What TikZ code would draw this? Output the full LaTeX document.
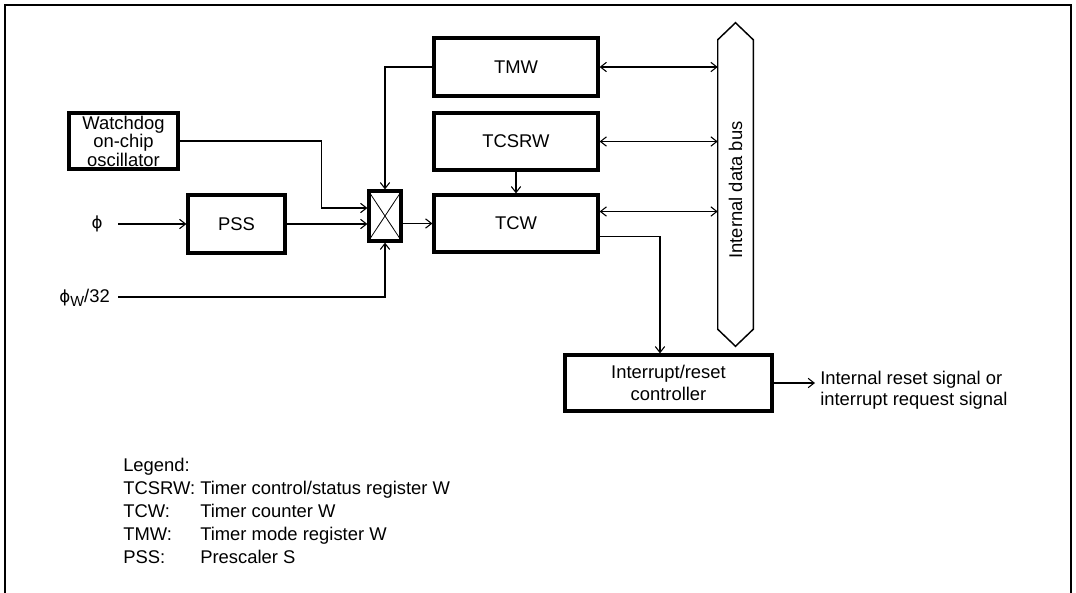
\documentclass[tikz,border=0pt]{standalone}
\usepackage{fontspec}
\setmainfont{Liberation Sans}
\newfontfamily\dejavu{DejaVu Sans}
\usetikzlibrary{arrows.meta,calc}
\begin{document}
\begin{tikzpicture}[x=0.75pt,y=-0.75pt,
  font=\fontsize{13.8pt}{16pt}\selectfont,
  box/.style={draw,line width=2.4pt,inner sep=0pt,align=center},
  conn/.style={line width=0.8pt,-{Straight Barb[length=4.5pt,width=7pt]}},
  bidir/.style={line width=0.8pt,{Straight Barb[length=4.5pt,width=7pt]}-{Straight Barb[length=4.5pt,width=7pt]}},
  lbl/.style={anchor=west,inner sep=0pt},
  leglbl/.style={anchor=base west,inner sep=0pt}]
\useasboundingbox (0,0) rectangle (1076,593);
% frame
\draw[line width=1.6pt] (5,593) -- (5,5) -- (1071,5) -- (1071,593);
% boxes
\node[box,minimum width=123pt,minimum height=43.5pt] (tmw) at (516,67) {TMW};
\node[box,minimum width=123pt,minimum height=42.75pt] (tcsrw) at (516,141.5) {TCSRW};
\node[box,minimum width=123pt,minimum height=42.75pt] (tcw) at (516,223.5) {TCW};
\node[box,minimum width=24pt,minimum height=37.5pt] (sel) at (385,216) {};
\draw[line width=0.6pt] (sel.north west) -- (sel.south east) (sel.north east) -- (sel.south west);
\node[box,minimum width=81.75pt,minimum height=42pt,font=\fontsize{13.8pt}{12pt}\selectfont] (wd) at (123.5,141) {Watchdog\\on-chip\\oscillator};
\node[box,minimum width=72.75pt,minimum height=43.5pt] (pss) at (236.5,224) {PSS};
\node[box,minimum width=155.25pt,minimum height=42pt,font=\fontsize{13.8pt}{17pt}\selectfont] (ctl) at (668.5,383) {Interrupt/reset\\controller};
% bus
\node[minimum width=26.25pt,minimum height=216.75pt,inner sep=0pt] (bus) at (735.5,184.5) {};
\draw[line width=1.1pt] (bus.north west) -- ($(bus.north)+(0,-17)$) -- (bus.north east)
  -- (bus.south east) -- ($(bus.south)+(0,17)$) -- (bus.south west) -- cycle;
\node[rotate=90] (bustext) at (735.5,190) {Internal data bus};
% bus connections
\draw[bidir] (tmw.east) -- (tmw.east -| bus.west);
\draw[bidir] (tcsrw.east) -- (tcsrw.east -| bus.west);
\draw[bidir] ($(tcw.east)+(0,-12)$) -- ($(tcw.east -| bus.west)+(0,-12)$);
% internal connections
\draw[conn] (tcsrw.south) -- (tcw.north);
\draw[conn] (tmw.west) -| (sel.north);
\draw[conn] (wd.east) -- ++(142,0) |- ($(sel.west)+(0,-8)$);
\draw[conn] (pss.east) -- (pss.east -| sel.west);
\draw[conn] (sel.east |- tcw.west) -- (tcw.west);
% inputs
\node (phi) at (97,224) {\dejavu\fontsize{12.5pt}{14pt}\selectfont ϕ};
\coordinate (phiend) at (118,224);
\draw[conn] (phiend) -- (pss.west);
\node[anchor=east,inner sep=0pt] (phiw) at (110,298) {{\dejavu\fontsize{12.5pt}{14pt}\selectfont ϕ}\raisebox{-0.35ex}{\fontsize{11pt}{12pt}\selectfont W}/32};
\coordinate (phiwend) at (118,297);
\draw[conn] (phiwend) -| (sel.south);
% output to controller
\draw[conn] ($(tcw.east)+(0,13)$) -| ($(ctl.north)+(-8.5,0)$);
\coordinate (outend) at (815,383);
\draw[conn] (ctl.east) -- (outend);
\node[lbl,align=left,font=\fontsize{13.8pt}{16pt}\selectfont] (outtext) at (820,390) {Internal reset signal or\\interrupt request signal};
% legend
\node[leglbl] (leg) at (123,471) {Legend:};
\node[leglbl] (l1a) at (123,494) {TCSRW:};
\node[leglbl] (l1b) at (200,494) {Timer control/status register W};
\node[leglbl] (l2a) at (123,517) {TCW:};
\node[leglbl] (l2b) at (200,517) {Timer counter W};
\node[leglbl] (l3a) at (123,540) {TMW:};
\node[leglbl] (l3b) at (200,540) {Timer mode register W};
\node[leglbl] (l4a) at (123,563) {PSS:};
\node[leglbl] (l4b) at (200,563) {Prescaler S};
\end{tikzpicture}
\end{document}
